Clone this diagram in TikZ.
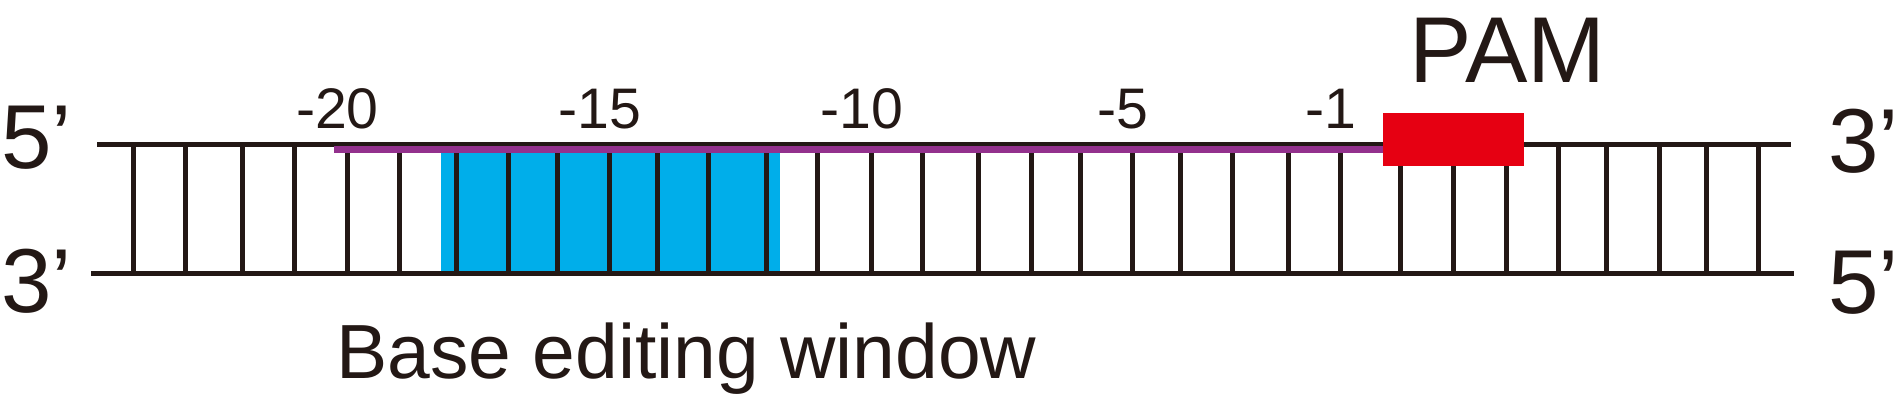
\documentclass[tikz,border=0pt]{standalone}
\usepackage{fontspec}
\setmainfont{Liberation Sans}
\usetikzlibrary{positioning}
\definecolor{dnablack}{HTML}{231815}
\definecolor{guidepurple}{HTML}{93318D}
\definecolor{winblue}{HTML}{00AEEA}
\definecolor{pamred}{HTML}{E60012}

\begin{document}
\begin{tikzpicture}[
  x=0.5pt,y=0.5pt,
  every node/.style={text=dnablack,inner sep=0pt},
  strand/.style={draw=dnablack,line width=2.5pt},
  rung/.style={draw=dnablack,line width=2.5pt},
  endlbl/.style={font=\fontsize{45.4}{45.4}\selectfont,anchor=base west},
  poslbl/.style={font=\fontsize{28.6}{28.6}\selectfont,anchor=base},
  bigl/.style={font=\fontsize{46.8}{46.8}\selectfont,anchor=base},
  winl/.style={font=\fontsize{38.4}{38.4}\selectfont,anchor=base west}
]
\useasboundingbox (0,0) rectangle (1900,404);

% editing window and base pairs
\fill[winblue] (441,131) rectangle (780,251);
\foreach \x in {133,185,242,294,347,399,456,508,557,609,657,708,766,817,871,
    922,978,1031,1080,1132,1180,1232,1288,1340,1400,1453,1506,1558,1606,1659,1706,1758}
  \draw[rung] (\x,131) -- (\x,260);

% strands
\coordinate (top5) at (97,260);
\coordinate (top3) at (1791,260);
\coordinate (bot3) at (91,131);
\coordinate (bot5) at (1794,131);
\draw[strand] (top5) -- (top3);
\draw[strand] (bot3) -- (bot5);

% guide and PAM
\fill[guidepurple] (334,251) rectangle (1383,258);
\fill[pamred] (1383,238) rectangle (1524,291);
\node[bigl] (pam) at (1507.5,322) {PAM};

% positions
\foreach \d/\x in {20/347,15/609,10/871,5/1132,1/1340}
  \node[poslbl] (pos\d) at (\x,276) {\llap{-}\d};

% ends
\node[endlbl] (l5) at (1,236) {5’};
\node[endlbl] (l3) at (1,92) {3’};
\node[endlbl] (r3) at (1828,232) {3’};
\node[endlbl] (r5) at (1828,91) {5’};

\node[winl] (win) at (336,26) {Base editing window};
\end{tikzpicture}
\end{document}
